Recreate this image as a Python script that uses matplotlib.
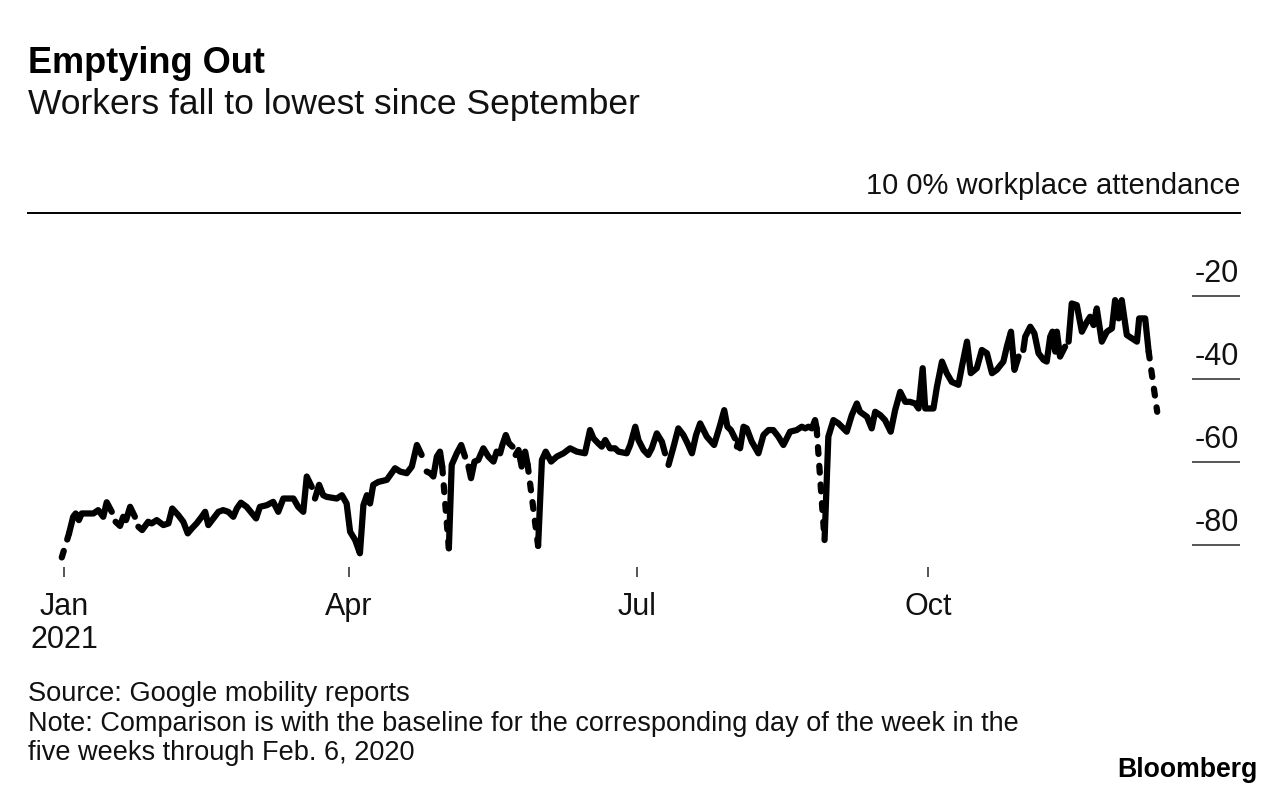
import datetime as dt
import numpy as np
import matplotlib
matplotlib.use("Agg")
import matplotlib.pyplot as plt
import matplotlib.dates as mdates

nan = np.nan

# days after 1 Jan 2021 and workplace attendance (% vs baseline); nan = break in the line
days = [
    -0.7, nan,
    1.6, 2.9, 3.7, 4.7, 5.6, 9.3, 10.8, 12.4, 13.5, 15.1, nan,
    16.3, 17.7, 18.7, 19.6, 20.9, 22.4, nan,
    23.5, 24.7, 26.6, 27.7, 29.3, 31.4, 33.0, 34.2, 36.1, 37.7, 39.1, 40.4, 41.9, 43.5,
    44.6, 45.6, 47.2, 48.8, 50.3, 51.9, 53.5, 54.6, 55.9, 57.7, 60.7, 61.9, 64.1, 66.1,
    67.7, 69.3, 72.5, 74.0, 75.6, 76.7, 78.3, nan,
    79.3, 80.6, 81.9, 83.0, 86.2, 87.8, 89.3, 90.4, 92.0, 93.5, 94.6, 95.7, 96.7, 97.7,
    99.3, 102.0, 104.6, 106.2, 108.3, 109.9, 111.5, 113.0, nan,
    114.6, 115.7, 116.7, 117.8, 118.8, 119.5, nan,
    121.6, 122.5, 124.1, 125.5, 126.7, nan,
    127.8, 128.6, 129.7, 130.9, 132.5, 134.1, 135.7, 136.7, 137.8, 138.5, 139.6, 140.6, 141.7, nan,
    142.7, 143.6, 144.6, 145.7, 146.5, nan,
    149.8, 151.0, 152.2, 153.9, 155.7, 157.8, 159.9, 162.0, 164.6, 166.2, 167.3, 168.8,
    169.9, 171.0, 172.5, 174.1, 175.2, 177.8, 178.9, 180.5, 181.5, 183.1, 184.6, 185.7,
    187.3, 188.9, 189.9, nan,
    191.0, 192.6, 194.1, 195.7, 197.0, 198.4, 199.7, 201.0, 203.1, 205.4, 207.3, 208.6,
    209.6, 210.7, 212.0, nan,
    212.6, 213.1, 213.6, 214.7, 215.7, 217.3, 219.4, 221.0, 222.6, 224.1, 225.7, 227.3,
    229.4, 231.5, 233.1, 234.2, 235.2, 236.3, 237.3, 237.8, nan,
    240.3, 241.5, 243.1, 244.7, 247.3, 248.9, 250.5, 251.5, 253.7, 255.2, 256.3, 257.9,
    259.4, 261.2, 262.6, 264.2, 265.8, 267.3, 268.9, 270.0, 271.3, 272.1, 274.7, 275.8,
    277.4, 278.9, 280.5, 282.6, 283.7, 285.3, 286.5, 288.4, 290.0, 291.6, 293.2, 294.7,
    296.8, 297.9, 299.2, 300.3, 301.6, nan,
    303.1, 303.7, 305.3, 306.6, 307.9, 309.5, 310.5, 311.6, 312.3, 313.2, 313.7, 314.7, 316.3, nan,
    317.4, 318.4, 320.0, 321.6, 323.2, 324.2, 325.3, 326.3, 327.9, 329.5, 331.1, 332.1,
    333.2, 334.2, 335.8, 337.4, 339.0, 339.7, 341.6, 342.7, nan,
    345.4,
]
attendance = [
    -83.0, nan,
    -77.2, -73.2, -72.4, -74.0, -72.4, -72.4, -71.6, -73.2, -69.7, -72.0, nan,
    -74.4, -75.4, -73.2, -74.0, -70.8, -73.2, nan,
    -75.6, -76.4, -74.4, -74.8, -74.0, -75.2, -74.8, -71.2, -72.8, -74.4, -77.2, -76.0, -74.8, -73.2,
    -72.0, -75.2, -73.6, -72.0, -71.6, -72.0, -73.2, -71.2, -69.8, -70.8, -73.6, -70.8, -70.4, -69.6,
    -72.0, -68.8, -68.8, -70.8, -72.0, -63.5, -66.0, nan,
    -68.8, -65.5, -68.0, -68.4, -68.8, -68.0, -70.0, -76.8, -78.8, -82.0, -70.4, -68.0, -70.0, -65.5,
    -64.8, -64.3, -61.5, -62.3, -62.7, -61.1, -55.9, -58.3, nan,
    -62.3, -62.7, -63.5, -58.7, -57.5, -61.1, nan,
    -80.8, -60.7, -57.9, -55.9, -58.7, nan,
    -61.1, -63.9, -59.9, -59.5, -56.7, -58.7, -59.9, -57.5, -57.9, -55.9, -53.5, -55.5, -56.3, nan,
    -58.3, -57.1, -61.1, -57.5, -60.7, nan,
    -80.2, -59.5, -57.5, -59.9, -58.7, -57.9, -56.7, -57.5, -57.9, -52.3, -54.3, -55.5,
    -56.3, -54.7, -56.7, -56.7, -57.5, -57.9, -55.9, -51.5, -54.7, -57.1, -58.3, -56.7,
    -53.1, -55.1, -57.9, nan,
    -60.7, -56.3, -51.9, -53.5, -55.5, -57.9, -53.5, -50.7, -53.9, -55.9, -51.1, -47.5,
    -51.5, -52.3, -54.3, nan,
    -56.3, -55.1, -56.7, -51.5, -51.9, -55.1, -57.9, -53.5, -52.3, -52.3, -53.9, -55.9,
    -52.7, -52.3, -51.5, -51.9, -51.5, -51.9, -49.9, -51.9, nan,
    -78.8, -53.9, -49.9, -50.7, -52.7, -48.7, -45.9, -47.9, -49.1, -51.9, -47.9, -48.7,
    -49.9, -52.7, -47.5, -43.1, -45.5, -45.5, -45.9, -47.1, -37.4, -47.1, -47.1, -41.9,
    -35.8, -38.6, -40.7, -41.4, -37.0, -31.0, -38.6, -37.4, -33.0, -33.8, -38.6, -37.8,
    -35.8, -32.2, -28.6, -37.8, -34.6, nan,
    -33.0, -29.8, -27.4, -29.0, -33.8, -35.4, -35.8, -29.8, -28.6, -33.4, -28.6, -34.6, -32.2, nan,
    -31.0, -21.8, -22.2, -28.6, -26.2, -25.0, -27.0, -23.0, -31.0, -28.6, -27.8, -21.0,
    -25.4, -21.0, -29.4, -30.2, -31.0, -25.4, -25.4, -33.4, nan,
    -47.9,
]
# breaks that the chart bridges with a dashed line (day the bridge leaves from)
dashed_from = [-0.7, 119.5, 146.5, 237.8, 342.7]

y_ticks = [-20, -40, -60, -80]
x_tick_dates = [dt.datetime(2021, 1, 1), dt.datetime(2021, 4, 1),
                dt.datetime(2021, 7, 1), dt.datetime(2021, 10, 1)]
x_tick_labels = ["Jan\n2021", "Apr", "Jul", "Oct"]

plt.rcParams['font.family'] = ['Liberation Sans', 'DejaVu Sans']

W, H = 1286, 792
fig = plt.figure(figsize=(W / 100, H / 100), dpi=100)
ax = fig.add_axes([28 / W, 1 - 567 / H, (1240 - 28) / W, (567 - 213) / H])

start = mdates.date2num(dt.datetime(2021, 1, 1))
x = start + np.array(days)
y = np.array(attendance)

LW = 4.5
ax.plot(x, y, color='black', lw=LW, solid_capstyle='round',
        solid_joinstyle='round', clip_on=False, zorder=3)

for b in np.where(np.isnan(y))[0]:
    if days[b - 1] in dashed_from:
        ax.plot(x[[b - 1, b + 1]], y[[b - 1, b + 1]], color='black', lw=LW,
                linestyle=(0, (1.1, 1.9)), dash_capstyle='round', clip_on=False, zorder=3)

ax.set_xlim(start - 11.37, start + 371.56)
ax.set_ylim(-85.3, 0)

for s in ['left', 'right', 'bottom']:
    ax.spines[s].set_visible(False)
ax.spines['top'].set_color('black')
ax.spines['top'].set_linewidth(1.4)

ax.set_yticks([])
for v in y_ticks:
    ax.axhline(v, xmin=(1193 - 28) / (1240 - 28), xmax=1, color='#555555', lw=1.4)
    ax.annotate(str(v), xy=(1, v), xycoords=('axes fraction', 'data'),
                xytext=(-1, 10), textcoords='offset points',
                ha='right', va='baseline', fontsize=22, color='#111111')

ax.set_xticks(mdates.date2num(x_tick_dates))
ax.set_xticklabels(x_tick_labels, fontsize=22, color='#111111', linespacing=1.12)
ax.tick_params(axis='x', direction='out', length=7, width=1.4, color='#555555', pad=11)

fig.text(28 / W, 1 - 73 / H, "Emptying Out", fontsize=26, fontweight='bold',
         va='baseline', ha='left', color='black')
fig.text(28 / W, 1 - 114 / H, "Workers fall to lowest since September", fontsize=25.5,
         va='baseline', ha='left', color='#111111')
fig.text(1240 / W, 1 - 194 / H, "10 0% workplace attendance", fontsize=21,
         va='baseline', ha='right', color='#111111')

fig.text(28 / W, 1 - 701 / H, "Source: Google mobility reports", fontsize=19.6,
         va='baseline', ha='left', color='#111111')
fig.text(28 / W, 1 - 731 / H,
         "Note: Comparison is with the baseline for the corresponding day of the week in the",
         fontsize=19.5, va='baseline', ha='left', color='#111111')
fig.text(28 / W, 1 - 760 / H, "five weeks through Feb. 6, 2020", fontsize=19.5,
         va='baseline', ha='left', color='#111111')
fig.text(1258 / W, 1 - 777 / H, "Bloomberg", fontsize=19.2, fontweight='bold',
         va='baseline', ha='right', color='black')

fig.savefig("out.png", dpi=100, facecolor='white')
